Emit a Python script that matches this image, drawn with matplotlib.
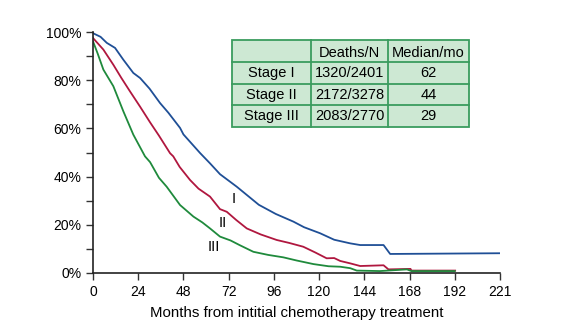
import matplotlib
matplotlib.use("Agg")
import matplotlib.pyplot as plt
from matplotlib.patches import Rectangle

plt.rcParams['font.family'] = ['Liberation Sans', 'DejaVu Sans']

# Data (months, survival %)
stage1_t = [0, 4, 7.3, 11.7, 16.1, 21.4, 25, 30, 35.6, 40, 46.2, 48, 56.8, 62.1, 67.4, 76.3, 88,
            97, 106.4, 112, 120.5, 128, 136.5, 141.8, 154.2, 157.7, 216]
stage1_s = [99.5, 98, 95.5, 93.4, 88.5, 83, 80.9, 76.5, 70.5, 66.5, 60.2, 57.5, 49.8, 45.5, 41, 35.8, 28.3,
            24.5, 21.3, 19, 16.5, 13.8, 12.3, 11.6, 11.6, 7.9, 8.2]
stage2_t = [0, 5.5, 10.8, 15, 19.6, 25, 30.3, 35, 40.9, 42.6, 46, 51.5, 56, 62.1, 67.4, 71, 76, 81.6,
            89, 97.5, 104, 111.6, 118, 124, 128, 131.2, 136.5, 141.8, 154.2, 156.8, 168.5, 169, 192.2]
stage2_s = [97.5, 92.7, 86.4, 81, 75.4, 69, 62.5, 57, 49.7, 48.4, 44, 38.6, 35, 31.7, 26.5, 25.4, 22, 18.5,
            16, 13.7, 12.5, 10.9, 8.5, 6.1, 6.2, 5.0, 4.0, 2.9, 3.2, 1.5, 1.7, 1.0, 1.0]
stage3_t = [0, 2.5, 5.5, 10.8, 16.1, 21.4, 27.6, 30.3, 35, 39.1, 46.2, 53.3, 58, 62.1, 67.4, 73, 78,
            85.1, 93, 101, 108, 117, 125, 131.2, 136.5, 140, 152.3, 166.6, 169, 192]
stage3_s = [96.1, 91, 84.4, 77.5, 67.1, 57.4, 48.4, 46, 39.5, 35.8, 28.2, 23.4, 21, 18.5, 15.1, 13.5, 11.5,
            8.8, 7.5, 6.5, 5.2, 3.7, 2.8, 2.6, 2.0, 1.0, 0.8, 1.5, 0.8, 0.8]

xtick_pos = [0, 24, 48, 72, 96, 120, 144, 168, 192, 216]
xtick_labels = ["0", "24", "48", "72", "96", "120", "144", "168", "192", "221"]
ytick_pos = [0, 20, 40, 60, 80, 100]
ytick_labels = ["0%", "20%", "40%", "60%", "80%", "100%"]

table_header = ["", "Deaths/N", "Median/mo"]
table_rows = [["Stage I", "1320/2401", "62"],
              ["Stage II", "2172/3278", "44"],
              ["Stage III", "2083/2770", "29"]]

blue = "#1f4f96"
red = "#b0173f"
green = "#1f8a3c"

fig = plt.figure(figsize=(5.71, 3.31), dpi=100)
ax = fig.add_axes([93/571, 58/331, 407/571, 241/331])

ax.plot(stage1_t, stage1_s, color=blue, lw=1.3)
ax.plot(stage2_t, stage2_s, color=red, lw=1.3)
ax.plot(stage3_t, stage3_s, color=green, lw=1.3)

ax.set_xlim(0, 216)
ax.set_ylim(0, 100)
ax.set_xticks(xtick_pos)
ax.set_xticklabels(xtick_labels, fontsize=10)
ax.set_yticks(ytick_pos)
ax.set_yticklabels(ytick_labels, fontsize=10)
ax.set_yticks([10, 30, 50, 70, 90], minor=True)
ax.tick_params(axis='both', which='both', length=5, width=1.0, color='#333333', pad=3.5)
for s in ['top', 'right']:
    ax.spines[s].set_visible(False)
for s in ['left', 'bottom']:
    ax.spines[s].set_linewidth(1.2)
    ax.spines[s].set_color('#222222')
ax.set_xlabel("Months from intitial chemotherapy treatment", fontsize=10.8, labelpad=5)

ax.text(74.9, 30.7, "I", fontsize=10.5, ha='center', va='center')
ax.text(69.1, 20.7, "II", fontsize=10.5, ha='center', va='center')
ax.text(64.2, 10.8, "III", fontsize=10.5, ha='center', va='center')

# Table drawn in figure pixel coordinates
H = 331
col_x = [232, 311, 388, 469]
row_y = [40, 62, 84, 105.5, 127]
fill = "#cde8d3"
edge = "#3a9c5e"
def fx(px):
    return px / 571
def fy(py):
    return (H - py) / H
fig.patches.append(Rectangle((fx(col_x[0]), fy(row_y[-1])), fx(col_x[-1]) - fx(col_x[0]),
                             fy(row_y[0]) - fy(row_y[-1]), transform=fig.transFigure,
                             facecolor=fill, edgecolor=edge, lw=1.3, zorder=5))
for x in col_x[1:-1]:
    fig.add_artist(plt.Line2D([fx(x), fx(x)], [fy(row_y[0]), fy(row_y[-1])],
                              transform=fig.transFigure, color=edge, lw=1.3, zorder=6))
for y in row_y[1:-1]:
    fig.add_artist(plt.Line2D([fx(col_x[0]), fx(col_x[-1])], [fy(y), fy(y)],
                              transform=fig.transFigure, color=edge, lw=1.3, zorder=6))
all_rows = [table_header] + table_rows
for r, row in enumerate(all_rows):
    for c, txt in enumerate(row):
        cx = (col_x[c] + col_x[c + 1]) / 2
        cy = (row_y[r] + row_y[r + 1]) / 2
        if r == 0:
            cy += 2
        fig.text(fx(cx), fy(cy), txt, ha='center', va='center', fontsize=10.5, zorder=7)

fig.savefig("out.png", dpi=100)
